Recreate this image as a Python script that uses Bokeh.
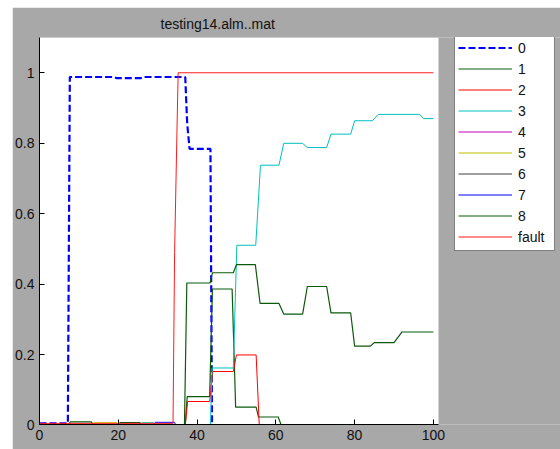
from bokeh.plotting import figure
from bokeh.models import (ColumnDataSource, Range1d, FixedTicker, Legend, LegendItem,
                          Spacer, BoxAnnotation)
from bokeh.layouts import row, column
from bokeh.embed import file_html
from bokeh.resources import INLINE

title_text = "testing14.alm..mat"
x_ticks = [0, 20, 40, 60, 80, 100]
y_ticks = [0, 0.2, 0.4, 0.6, 0.8, 1.0]
y_tick_labels = ["0", "0.2", "0.4", "0.6", "0.8", "1"]

names = ["0", "1", "2", "3", "4", "5", "6", "7", "8", "fault"]

s0_x = [0, 7.2, 7.7, 19.0, 19.5, 26.0, 26.5, 37.0, 37.5, 38.1, 43.4, 43.8, 100]
s0_y = [0.006, 0.006, 0.988, 0.988, 0.985, 0.985, 0.988, 0.988, 0.855, 0.784, 0.784, 0, 0]

s1_x = [0, 7.3, 7.8, 13.2, 13.7, 37.0, 37.5, 43.2, 43.9, 48.9, 49.8, 55.0, 55.6, 60.6, 61.4, 100]
s1_y = [0, 0, 0.010, 0.010, 0, 0, 0.082, 0.082, 0.387, 0.387, 0.052, 0.052, 0.024, 0.024, 0, 0]

s2_x = [0, 37.0, 37.6, 43.2, 44.0, 49.2, 50.0, 55.0, 55.8, 100]
s2_y = [0, 0, 0.068, 0.068, 0.153, 0.153, 0.2, 0.2, 0, 0]

s3_x = [0, 25.5, 26.0, 29.0, 29.5, 43.4, 43.8, 49.2, 50.1, 54.9, 56.1, 60.8, 62.0,
        66.8, 68.0, 72.9, 74.0, 79.0, 80.0, 84.5, 86.0, 96.5, 97.5, 100]
s3_y = [0, 0, 0.008, 0.008, 0, 0, 0.163, 0.163, 0.511, 0.511, 0.738, 0.738, 0.800,
        0.800, 0.788, 0.788, 0.826, 0.826, 0.864, 0.864, 0.882, 0.882, 0.870, 0.870]

s4_x = [0, 100]
s4_y = [0, 0]

s5_x = [0, 13.4, 13.8, 19.6, 20.0, 100]
s5_y = [0, 0, 0.008, 0.008, 0, 0]

s6_x = [0, 100]
s6_y = [0, 0]

s7_x = [0, 29.0, 29.4, 34.3, 34.6, 100]
s7_y = [0, 0, 0.009, 0.009, 0, 0]

s8_x = [0, 20.0, 20.5, 25.5, 26.0, 36.8, 37.4, 43.3, 43.9, 49.2, 50.0, 54.8, 56.0,
        60.8, 62.0, 66.8, 68.0, 72.9, 74.0, 79.0, 80.0, 84.0, 85.0, 90.0, 92.0, 100]
s8_y = [0, 0, 0.008, 0.008, 0, 0, 0.404, 0.404, 0.433, 0.433, 0.456, 0.456, 0.346,
        0.346, 0.316, 0.316, 0.394, 0.394, 0.319, 0.319, 0.225, 0.225, 0.235, 0.235,
        0.265, 0.265]

fault_x = [0, 33.9, 34.3, 34.9, 35.2, 100]
fault_y = [0.006, 0.006, 0.49, 0.835, 1.0, 1.0]

series_x = [s0_x, s1_x, s2_x, s3_x, s4_x, s5_x, s6_x, s7_x, s8_x, fault_x]
series_y = [s0_y, s1_y, s2_y, s3_y, s4_y, s5_y, s6_y, s7_y, s8_y, fault_y]
colors = ["#0000ff", "#0b5a0b", "#ff0000", "#00bfbf", "#bf00bf", "#bfbf00",
          "#404040", "#0000ff", "#0b5a0b", "#ff1a1a"]
widths = [2.2, 1.2, 1, 1, 1, 1, 1, 1, 1.2, 1]
dashes = ["7 3"] + ["solid"] * 9

GREY = "#a8a8a8"
FONT = "Liberation Sans"

X_MAX = 101.3          # right edge of the white axes box
X_VIEW = 132.27        # frame extends under the legend area
Y_MIN = 0.0028         # keeps lines lying at zero hidden under the axis line
Y_MAX = 1.1

p = figure(width=548, height=442, output_backend="svg", toolbar_location=None,
           title=title_text, title_location="above",
           x_range=Range1d(0, X_VIEW), y_range=Range1d(Y_MIN, Y_MAX),
           min_border_left=27, min_border_right=0, min_border_top=29,
           min_border_bottom=25)
p.background_fill_color = GREY
p.border_fill_color = GREY
p.outline_line_color = None
p.grid.visible = False
p.add_layout(BoxAnnotation(left=0, right=X_MAX, fill_color="white", fill_alpha=1.0,
                           line_color=None, level="underlay"))

p.title.text_font = FONT
p.title.text_font_size = "14px"
p.title.text_font_style = "normal"
p.title.text_color = "#111111"
p.title.align = "left"
p.title.offset = 121
p.title.standoff = 12

y_tick_pos = [max(t, Y_MIN) for t in y_ticks]
for ax, ticks in ((p.xaxis[0], x_ticks), (p.yaxis[0], y_tick_pos)):
    ax.ticker = FixedTicker(ticks=ticks)
    ax.major_tick_in = 5
    ax.major_tick_out = 0
    ax.minor_tick_line_color = None
    ax.major_label_text_font = FONT
    ax.major_label_text_font_size = "14px"
    ax.major_label_text_color = "#111111"
    ax.major_label_standoff = 5
    ax.axis_line_color = "black"
    ax.major_tick_line_color = "black"
p.xaxis[0].bounds = (0, X_MAX)
p.yaxis[0].major_label_overrides = {t: s for t, s in zip(y_tick_pos, y_tick_labels)}

items = []
for name, xs, ys, c, w, d in zip(names, series_x, series_y, colors, widths, dashes):
    src = ColumnDataSource(data=dict(x=xs, y=ys))
    r = p.line("x", "y", source=src, line_color=c, line_width=w, line_dash=d)
    items.append(LegendItem(label=name, renderers=[r]))

legend = Legend(items=items, location=(415, 173))
legend.glyph_width = 54
legend.glyph_height = 21
legend.label_height = 21
legend.label_width = 33
legend.spacing = 0
legend.padding = 3
legend.margin = 0
legend.label_standoff = 6
legend.label_text_font = FONT
legend.label_text_font_size = "14px"
legend.label_text_color = "#111111"
legend.border_line_color = "black"
legend.border_line_width = 1
legend.background_fill_color = "white"
legend.background_fill_alpha = 1.0
p.add_layout(legend)

layout = column(Spacer(width=560, height=7),
                row(Spacer(width=12, height=442), p))
open("out.html", "w").write(file_html(layout, INLINE))
